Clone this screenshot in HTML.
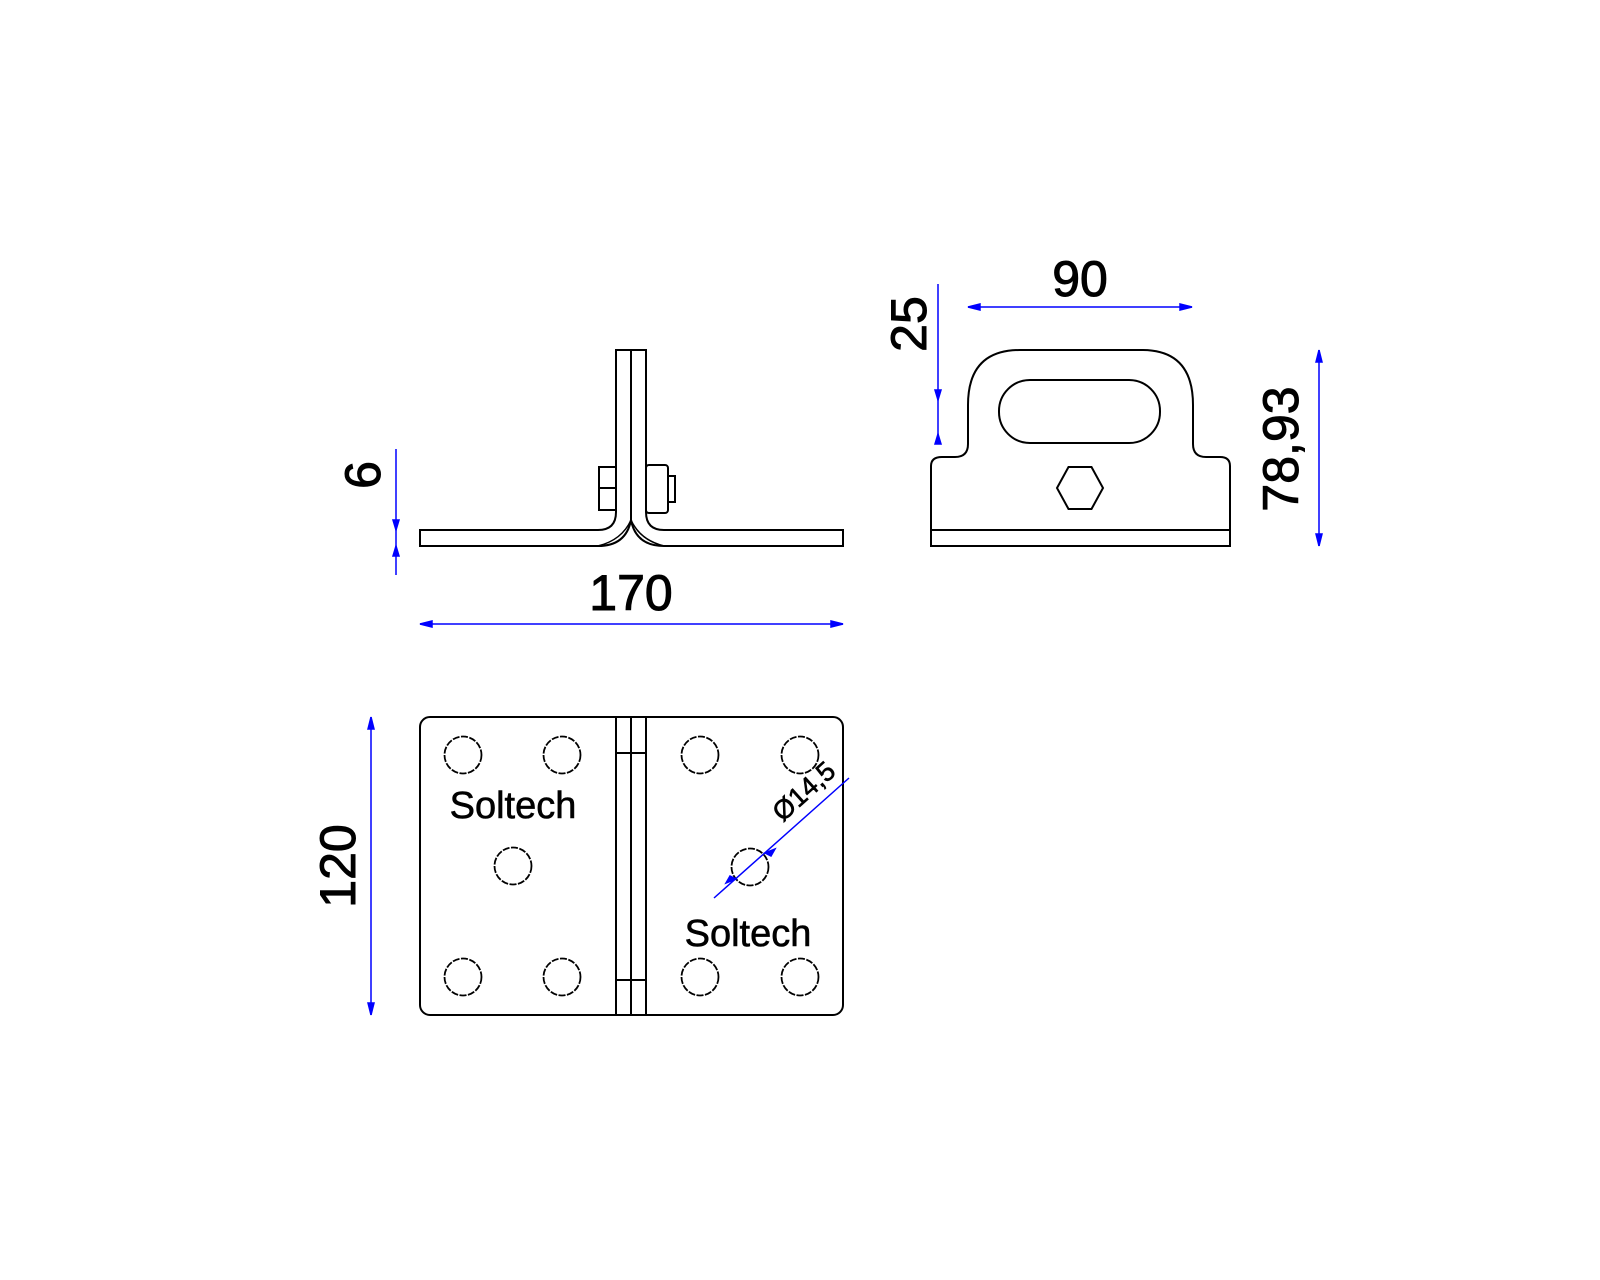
<!DOCTYPE html>
<html><head><meta charset="utf-8"><style>html,body{margin:0;padding:0;background:#fff}svg{display:block}</style></head><body>
<svg width="1600" height="1280" viewBox="0 0 1600 1280" xmlns="http://www.w3.org/2000/svg" font-family="Liberation Sans, sans-serif">
<g fill="none" stroke="#000" stroke-width="2">
<!-- side view -->
<path d="M420 530 H598 Q616 530 616 512 V350 H646 V512 Q646 530 664 530 H843 V546 H664 Q636 546 631 520 Q626 546 598 546 H420 Z"/>
<line x1="631" y1="350" x2="631" y2="520"/>
<path d="M598 546 Q622 540 631 520 M664 546 Q640 540 631 520" stroke-width="1.5"/>
<rect x="599" y="467" width="17" height="43"/>
<line x1="599" y1="488" x2="616" y2="488"/>
<rect x="646" y="465" width="22" height="48" rx="3"/>
<rect x="668" y="476" width="7" height="26"/>
<!-- front view -->
<path d="M931 546 V466 Q931 457 942 457 H955 Q968 457 968 444 V405 Q968 350 1020 350 H1142 Q1193 350 1193 405 V444 Q1193 457 1206 457 H1220 Q1230 457 1230 466 V546 Z"/>
<line x1="931" y1="530" x2="1230" y2="530"/>
<rect x="999" y="380" width="161" height="63" rx="31"/>
<polygon points="1057,488 1068.5,467 1091.5,467 1103,488 1091.5,509 1068.5,509"/>
<!-- top view -->
<rect x="420" y="717" width="423" height="298" rx="10"/>
<line x1="616" y1="717" x2="616" y2="1015"/>
<line x1="631" y1="717" x2="631" y2="1015"/>
<line x1="646" y1="717" x2="646" y2="1015"/>
<line x1="616" y1="753" x2="646" y2="753"/>
<line x1="616" y1="980" x2="646" y2="980"/>
<g stroke-width="1.8" stroke-dasharray="7 1.5">
<circle cx="463" cy="755" r="18.5"/><circle cx="562" cy="755" r="18.5"/>
<circle cx="463" cy="977" r="18.5"/><circle cx="562" cy="977" r="18.5"/>
<circle cx="513" cy="866" r="18.5"/>
<circle cx="700" cy="755" r="18.5"/><circle cx="800" cy="755" r="18.5"/>
<circle cx="700" cy="977" r="18.5"/><circle cx="800" cy="977" r="18.5"/>
<circle cx="750" cy="867" r="18.5"/>
</g>
</g>
<g stroke="#0000ff" stroke-width="1.5" fill="#0000ff">
<line x1="396" y1="449" x2="396" y2="575"/>
<path d="M393 520 l3 10 l3 -10 Z M393 556 l3 -10 l3 10 Z"/>
<line x1="420" y1="624" x2="843" y2="624"/>
<path d="M420 624 l12 -3 v6 Z M843 624 l-12 -3 v6 Z"/>
<line x1="968" y1="307" x2="1192" y2="307"/>
<path d="M968 307 l12 -3 v6 Z M1192 307 l-12 -3 v6 Z"/>
<line x1="938" y1="284" x2="938" y2="444"/>
<path d="M935 390 l3 10 l3 -10 Z M935 444 l3 -10 l3 10 Z"/>
<line x1="1319" y1="350" x2="1319" y2="546"/>
<path d="M1316 362 l3 -12 l3 12 Z M1316 534 l3 12 l3 -12 Z"/>
<line x1="371" y1="717" x2="371" y2="1015"/>
<path d="M368 729 l3 -12 l3 12 Z M368 1003 l3 12 l3 -12 Z"/>
<line x1="714" y1="898" x2="849" y2="778"/>
<path d="M736 879 l-10 4 l4 -7 Z M765 853 l10 -4 l-4 7 Z"/>
</g>
<g fill="#000" stroke="#000" stroke-width="1" font-size="50" text-anchor="middle">
<text x="631" y="610">170</text>
<text x="1080" y="296">90</text>
<text transform="translate(380,475) rotate(-90)">6</text>
<text transform="translate(926,324) rotate(-90)">25</text>
<text transform="translate(1298,449) rotate(-90)">78,93</text>
<text transform="translate(355,866) rotate(-90)">120</text>
<text x="513" y="818" font-size="38" stroke-width="0.6">Soltech</text>
<text x="748" y="946" font-size="38" stroke-width="0.6">Soltech</text>
<text transform="translate(810,798) rotate(-42)" font-size="27" stroke-width="0.6">Ø14,5</text>
</g>
</svg>
</body></html>
